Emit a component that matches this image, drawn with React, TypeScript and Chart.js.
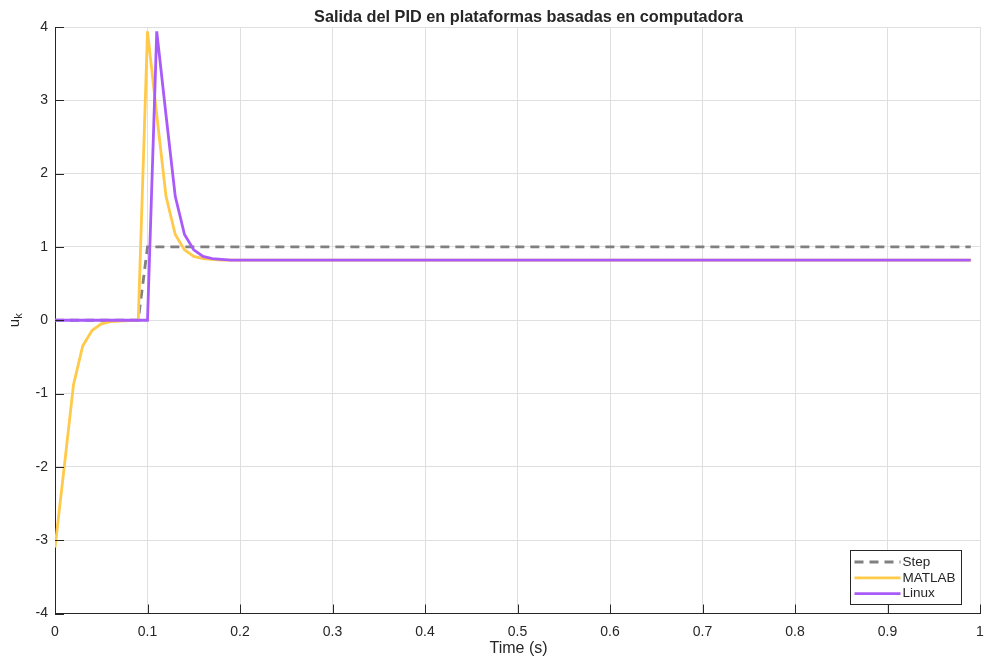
import React, { useEffect, useRef } from "react";
import { Chart, registerables } from "chart.js";

Chart.register(...registerables);

const TITLE = "Salida del PID en plataformas basadas en computadora";
const X_LABEL = "Time (s)";
const Y_LABEL_MAIN = "u";
const Y_LABEL_SUB = "k";
const SERIES_NAMES = ["Step", "MATLAB", "Linux"];

const time = [
  0, 0.01, 0.02, 0.03, 0.04, 0.05, 0.06, 0.07, 0.08, 0.09,
  0.1, 0.11, 0.12, 0.13, 0.14, 0.15, 0.16, 0.17, 0.18, 0.19,
  0.2, 0.21, 0.22, 0.23, 0.24, 0.25, 0.26, 0.27, 0.28, 0.29,
  0.3, 0.31, 0.32, 0.33, 0.34, 0.35, 0.36, 0.37, 0.38, 0.39,
  0.4, 0.41, 0.42, 0.43, 0.44, 0.45, 0.46, 0.47, 0.48, 0.49,
  0.5, 0.51, 0.52, 0.53, 0.54, 0.55, 0.56, 0.57, 0.58, 0.59,
  0.6, 0.61, 0.62, 0.63, 0.64, 0.65, 0.66, 0.67, 0.68, 0.69,
  0.7, 0.71, 0.72, 0.73, 0.74, 0.75, 0.76, 0.77, 0.78, 0.79,
  0.8, 0.81, 0.82, 0.83, 0.84, 0.85, 0.86, 0.87, 0.88, 0.89,
  0.9, 0.91, 0.92, 0.93, 0.94, 0.95, 0.96, 0.97, 0.98, 0.99,
];

const stepValues = [
  0, 0, 0, 0, 0, 0, 0, 0, 0, 0,
  1, 1, 1, 1, 1, 1, 1, 1, 1, 1,
  1, 1, 1, 1, 1, 1, 1, 1, 1, 1,
  1, 1, 1, 1, 1, 1, 1, 1, 1, 1,
  1, 1, 1, 1, 1, 1, 1, 1, 1, 1,
  1, 1, 1, 1, 1, 1, 1, 1, 1, 1,
  1, 1, 1, 1, 1, 1, 1, 1, 1, 1,
  1, 1, 1, 1, 1, 1, 1, 1, 1, 1,
  1, 1, 1, 1, 1, 1, 1, 1, 1, 1,
  1, 1, 1, 1, 1, 1, 1, 1, 1, 1,
];

const matlabValues = [
  -3.1, -2.0, -0.88, -0.35, -0.14, -0.05, -0.02, -0.01, -0.005, 0,
  3.94, 2.8, 1.69, 1.17, 0.96, 0.87, 0.84, 0.83, 0.82, 0.82,
  0.82, 0.82, 0.82, 0.82, 0.82, 0.82, 0.82, 0.82, 0.82, 0.82,
  0.82, 0.82, 0.82, 0.82, 0.82, 0.82, 0.82, 0.82, 0.82, 0.82,
  0.82, 0.82, 0.82, 0.82, 0.82, 0.82, 0.82, 0.82, 0.82, 0.82,
  0.82, 0.82, 0.82, 0.82, 0.82, 0.82, 0.82, 0.82, 0.82, 0.82,
  0.82, 0.82, 0.82, 0.82, 0.82, 0.82, 0.82, 0.82, 0.82, 0.82,
  0.82, 0.82, 0.82, 0.82, 0.82, 0.82, 0.82, 0.82, 0.82, 0.82,
  0.82, 0.82, 0.82, 0.82, 0.82, 0.82, 0.82, 0.82, 0.82, 0.82,
  0.82, 0.82, 0.82, 0.82, 0.82, 0.82, 0.82, 0.82, 0.82, 0.82,
];

const linuxValues = [
  0, 0, 0, 0, 0, 0, 0, 0, 0, 0,
  0, 3.94, 2.8, 1.69, 1.17, 0.96, 0.87, 0.84, 0.83, 0.82,
  0.82, 0.82, 0.82, 0.82, 0.82, 0.82, 0.82, 0.82, 0.82, 0.82,
  0.82, 0.82, 0.82, 0.82, 0.82, 0.82, 0.82, 0.82, 0.82, 0.82,
  0.82, 0.82, 0.82, 0.82, 0.82, 0.82, 0.82, 0.82, 0.82, 0.82,
  0.82, 0.82, 0.82, 0.82, 0.82, 0.82, 0.82, 0.82, 0.82, 0.82,
  0.82, 0.82, 0.82, 0.82, 0.82, 0.82, 0.82, 0.82, 0.82, 0.82,
  0.82, 0.82, 0.82, 0.82, 0.82, 0.82, 0.82, 0.82, 0.82, 0.82,
  0.82, 0.82, 0.82, 0.82, 0.82, 0.82, 0.82, 0.82, 0.82, 0.82,
  0.82, 0.82, 0.82, 0.82, 0.82, 0.82, 0.82, 0.82, 0.82, 0.82,
];

const FONT = '"Liberation Sans", Arial, Helvetica, sans-serif';
const INK = "#262626";
const GRID = "#dfdfdf";
const STEP_COLOR = "#808080";
const MATLAB_COLOR = "#FFC94A";
const LINUX_COLOR = "#A95BF9";

const overlay = {
  id: "matlabOverlay",
  afterDraw(chart: any) {
    const { ctx, chartArea: a, scales } = chart;
    const xs = scales.x;
    const ys = scales.y;
    ctx.save();

    // inward tick marks
    ctx.strokeStyle = INK;
    ctx.lineWidth = 1;
    ctx.beginPath();
    xs.ticks.forEach((t: any) => {
      const px = Math.round(xs.getPixelForValue(t.value)) + 0.5;
      ctx.moveTo(px, a.bottom);
      ctx.lineTo(px, a.bottom - 9);
    });
    ys.ticks.forEach((t: any) => {
      const py = Math.round(ys.getPixelForValue(t.value)) + 0.5;
      ctx.moveTo(a.left, py);
      ctx.lineTo(a.left + 9, py);
    });
    ctx.stroke();

    // title
    ctx.fillStyle = INK;
    ctx.textAlign = "center";
    ctx.textBaseline = "alphabetic";
    ctx.font = `bold 16.3px ${FONT}`;
    ctx.fillText(TITLE, (a.left + a.right) / 2 + 11, 21.5);

    // x label
    ctx.font = `16px ${FONT}`;
    ctx.fillText(X_LABEL, (a.left + a.right) / 2 + 1, 653);

    // y label with subscript
    ctx.save();
    ctx.translate(19, (a.top + a.bottom) / 2);
    ctx.rotate(-Math.PI / 2);
    ctx.textAlign = "left";
    ctx.font = `15px ${FONT}`;
    const wU = ctx.measureText(Y_LABEL_MAIN).width;
    ctx.font = `11px ${FONT}`;
    const wK = ctx.measureText(Y_LABEL_SUB).width;
    const start = -(wU + wK) / 2;
    ctx.font = `15px ${FONT}`;
    ctx.fillText(Y_LABEL_MAIN, start, 0);
    ctx.font = `11px ${FONT}`;
    ctx.fillText(Y_LABEL_SUB, start + wU, 3);
    ctx.restore();

    // legend (inside, bottom-right)
    const lw = 111;
    const lh = 54;
    const lx = Math.round(a.right - 19.5 - lw) + 0.5;
    const ly = Math.round(a.bottom - 10 - lh) + 0.5;
    ctx.fillStyle = "#ffffff";
    ctx.fillRect(lx, ly, lw, lh);
    ctx.strokeStyle = INK;
    ctx.lineWidth = 1;
    ctx.strokeRect(lx, ly, lw, lh);
    const ds = chart.data.datasets;
    ds.forEach((d: any, i: number) => {
      const yy = ly + 11.5 + i * 15.8;
      ctx.save();
      ctx.strokeStyle = d.borderColor;
      ctx.lineWidth = d.borderWidth;
      ctx.setLineDash(d.borderDash || []);
      ctx.beginPath();
      ctx.moveTo(lx + 4, yy);
      ctx.lineTo(lx + 50, yy);
      ctx.stroke();
      ctx.restore();
      ctx.fillStyle = INK;
      ctx.font = `13.5px ${FONT}`;
      ctx.textAlign = "left";
      ctx.textBaseline = "middle";
      ctx.fillText(d.label, lx + 52, yy);
    });

    ctx.restore();
  },
};

export default function App() {
  const ref = useRef<HTMLCanvasElement>(null);
  useEffect(() => {
    if (!ref.current) return;
    const mk = (vals: number[]) => vals.map((v, i) => ({ x: time[i], y: v }));
    const chart = new Chart(ref.current, {
      type: "line",
      data: {
        datasets: [
          {
            label: SERIES_NAMES[0],
            data: mk(stepValues),
            borderColor: STEP_COLOR,
            borderDash: [9, 6],
            borderWidth: 2.8,
            pointRadius: 0,
            tension: 0,
            order: 3,
          },
          {
            label: SERIES_NAMES[1],
            data: mk(matlabValues),
            borderColor: MATLAB_COLOR,
            borderWidth: 2.8,
            pointRadius: 0,
            tension: 0,
            order: 2,
          },
          {
            label: SERIES_NAMES[2],
            data: mk(linuxValues),
            borderColor: LINUX_COLOR,
            borderWidth: 2.8,
            pointRadius: 0,
            tension: 0,
            order: 1,
          },
        ],
      },
      options: {
        animation: false,
        responsive: false,
        layout: { padding: { top: 27, right: 4, left: 0, bottom: 0 } },
        plugins: {
          legend: { display: false },
          tooltip: { enabled: false },
          title: { display: false },
        },
        scales: {
          x: {
            type: "linear",
            min: 0,
            max: 1,
            afterFit: (s: any) => {
              s.height = 46.5;
              s.paddingLeft = 0;
              s.paddingRight = 0;
            },
            ticks: {
              stepSize: 0.1,
              padding: 10,
              color: INK,
              maxRotation: 0,
              autoSkip: false,
              font: { family: FONT, size: 14 },
              callback: (v: any) => String(Math.round(Number(v) * 10) / 10),
            },
            grid: { color: GRID, lineWidth: 1, drawTicks: false },
            border: { display: true, color: INK, width: 1 },
          },
          y: {
            type: "linear",
            min: -4,
            max: 4,
            afterFit: (s: any) => {
              s.width = 55;
              s.paddingTop = 0;
              s.paddingBottom = 0;
            },
            ticks: {
              stepSize: 1,
              padding: 7,
              color: INK,
              font: { family: FONT, size: 14 },
              callback: (v: any) => String(Math.round(Number(v))),
            },
            grid: { color: GRID, lineWidth: 1, drawTicks: false },
            border: { display: true, color: INK, width: 1 },
          },
        },
      },
      plugins: [overlay],
    } as any);
    return () => chart.destroy();
  }, []);
  return (
    <div
      style={{
        position: "fixed",
        left: 0,
        top: 0,
        width: 984,
        height: 660,
        background: "#ffffff",
      }}
    >
      <canvas ref={ref} width={984} height={660} style={{ display: "block" }} />
    </div>
  );
}
